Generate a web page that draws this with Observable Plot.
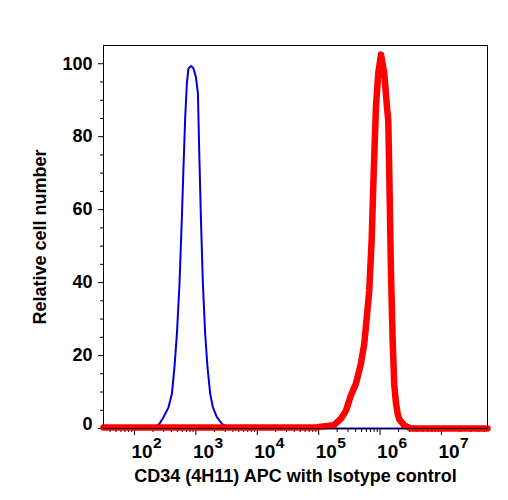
<!DOCTYPE html>
<html>
<head>
<meta charset="utf-8">
<script src="https://cdn.jsdelivr.net/npm/d3@7"></script>
<script src="https://cdn.jsdelivr.net/npm/@observablehq/plot@0.6"></script>
<style>
  html, body { margin: 0; padding: 0; background: #fff; }
  #chart svg { display: block; }
</style>
</head>
<body>
<div id="chart"></div>
<script>
// Isotype control (blue): log10 intensity and relative cell number
const isotypeLog = [1.495, 2.30, 2.407, 2.472, 2.554, 2.609, 2.651, 2.691, 2.733, 2.772, 2.798, 2.826, 2.853, 2.879, 2.923, 2.961, 3.000, 3.033, 3.054, 3.081, 3.114, 3.151, 3.189, 3.233, 3.277, 3.342, 3.423, 3.505, 3.65, 7.75];
const isotypeVal = [0, 0, 1.3, 3.1, 5.8, 9.5, 16.8, 26.0, 39.7, 58.0, 71.7, 85.4, 94.6, 98.7, 99.4, 98.7, 96.4, 91.9, 76.3, 58.0, 39.7, 26.0, 16.8, 9.5, 5.8, 3.1, 1.3, 0.5, 0, 0];

// CD34 (4H11) APC (red)
const cd34Log = [1.495, 4.956, 5.037, 5.147, 5.254, 5.363, 5.445, 5.526, 5.607, 5.689, 5.743, 5.770, 5.824, 5.863, 5.896, 5.933, 5.971, 6.015, 6.068, 6.112, 6.134, 6.150, 6.178, 6.205, 6.231, 6.259, 6.287, 6.313, 6.394, 6.503, 7.75];
const cd34Val = [0.3, 0.3, 0.5, 0.7, 1.0, 2.7, 4.9, 9.1, 12.3, 17.8, 23.3, 28.0, 37.9, 51.6, 69.9, 88.2, 97.4, 102.5, 97.4, 88.2, 84.5, 69.9, 42.5, 24.2, 12.0, 7.0, 4.0, 2.5, 0.8, 0, 0];

const xMajorExp = [2, 3, 4, 5, 6, 7];
const yMajor = [0, 20, 40, 60, 80, 100];
const yMinor = [5, 10, 15, 25, 30, 35, 45, 50, 55, 65, 70, 75, 85, 90, 95];
const xTitle = "CD34 (4H11) APC with Isotype control";
const yTitle = "Relative cell number";
const xDomainExp = [1.495, 7.75];
const yDomain = [0, 105];

const isotype = isotypeLog.map((l, i) => ({x: 10 ** l, y: isotypeVal[i]}));
const cd34 = cd34Log.map((l, i) => ({x: 10 ** l, y: cd34Val[i]}));
const xMajor = xMajorExp.map(e => 10 ** e);
const xMinor = [];
for (let e = 1; e <= 7; e++) for (let m = 2; m <= 9; m++) {
  const v = m * 10 ** e;
  if (v >= 10 ** xDomainExp[0] && v <= 10 ** xDomainExp[1]) xMinor.push(v);
}

const font = "'Liberation Sans', Arial, Helvetica, sans-serif";
const yLabelStyle = {frameAnchor: "left", dx: -11, textAnchor: "end", lineAnchor: "middle", text: d => String(d), fontSize: 18, fontWeight: "bold", fill: "black"};

const chart = Plot.plot({
  width: 508,
  height: 500,
  marginLeft: 103,
  marginRight: 21,
  marginTop: 45,
  marginBottom: 72,
  style: {fontFamily: font, color: "black", background: "white"},
  x: {type: "log", domain: xDomainExp.map(e => 10 ** e)},
  y: {domain: yDomain},
  marks: [
    Plot.axisY(yMinor, {tickSize: 3, tickFormat: () => "", label: null, stroke: "black"}),
    Plot.axisY(yMajor, {tickSize: 5, tickFormat: () => "", label: null, stroke: "black"}),
    Plot.text(yMajor.filter(d => d !== 0), {y: d => d, ...yLabelStyle}),
    Plot.text(yMajor.filter(d => d === 0), {y: d => d, ...yLabelStyle, dy: -4}),
    Plot.axisX(xMinor, {tickSize: 4, tickFormat: () => "", label: null, stroke: "black"}),
    Plot.axisX(xMajor, {tickSize: 7, tickFormat: () => "", label: null, stroke: "black"}),
    Plot.text(xMajor, {x: d => d, frameAnchor: "bottom", dy: 29, dx: -3, textAnchor: "start", text: () => "10", fontSize: 19, fontWeight: "bold", fill: "black"}),
    Plot.text(xMajorExp, {x: d => 10 ** d, frameAnchor: "bottom", dy: 19, dx: 18.5, textAnchor: "start", text: d => String(d), fontSize: 15.5, fontWeight: "bold", fill: "black"}),
    Plot.line(isotype, {x: "x", y: "y", stroke: "#0000dd", strokeWidth: 2}),
    Plot.line(cd34, {x: "x", y: "y", stroke: "#ff0000", strokeWidth: 6.5}),
    Plot.frame({stroke: "black", strokeWidth: 1}),
    Plot.text([yTitle], {frameAnchor: "left", dx: -63, rotate: -90, textAnchor: "middle", lineAnchor: "middle", fontSize: 18, fontWeight: "bold", fill: "black"}),
    Plot.text([xTitle], {frameAnchor: "bottom", dy: 53, textAnchor: "middle", fontSize: 18, fontWeight: "bold", fill: "black"})
  ]
});
document.getElementById("chart").appendChild(chart);
</script>
</body>
</html>
